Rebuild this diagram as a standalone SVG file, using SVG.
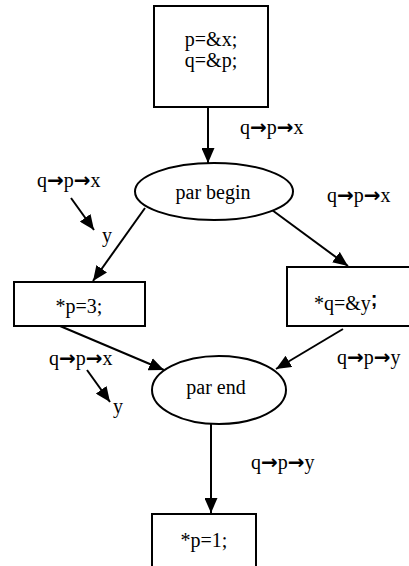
<svg xmlns="http://www.w3.org/2000/svg" width="409" height="566" viewBox="0 0 409 566">
<style>
.shape{fill:#fff;stroke:#000;stroke-width:2}
.t{font-family:"Liberation Serif","Times New Roman",serif;font-size:20px;fill:#000}
.c{text-anchor:middle}
.ar{font-family:"DejaVu Sans",sans-serif;font-weight:bold;font-size:20px}
.edge{stroke:#000;stroke-width:2;fill:none;marker-end:url(#ah)}
</style>
<defs>
<marker id="ah" viewBox="0 0 15 13" refX="15" refY="6.5" markerWidth="15" markerHeight="13" markerUnits="userSpaceOnUse" orient="auto">
<path d="M0,0 L15,6.5 L0,13 z" fill="#000"/>
</marker>
</defs>
<rect width="409" height="566" fill="#fff"/>
<g id="connectors">
<line class="edge" x1="208" y1="107" x2="208" y2="163"/>
<line class="edge" x1="145" y1="208" x2="93" y2="281"/>
<line class="edge" x1="272" y1="210" x2="348" y2="266"/>
<line class="edge" x1="60" y1="326" x2="164" y2="370"/>
<line class="edge" x1="343" y1="329" x2="276" y2="369"/>
<line class="edge" x1="211" y1="423" x2="211" y2="513"/>
<line class="edge" x1="71" y1="198" x2="94" y2="230"/>
<line class="edge" x1="87" y1="370" x2="110" y2="402"/>
</g>
<g id="n_init">
<rect class="shape" x="154" y="6" width="114" height="101"/>
<text class="t c" x="211" y="46" font-size="19.5">p=&amp;x;</text>
<text class="t c" x="211" y="67" font-size="19.5">q=&amp;p;</text>
</g>
<g id="n_parbegin">
<ellipse class="shape" cx="214" cy="191.5" rx="79" ry="28.5"/>
<text class="t c" x="213" y="199">par begin</text>
</g>
<g id="n_p3">
<rect class="shape" x="14" y="282" width="131" height="44"/>
<text class="t c" x="79" y="313">*p=3;</text>
</g>
<g id="n_qy">
<rect class="shape" x="287" y="267" width="130" height="59"/>
<text class="t" x="314" y="310">*q=&amp;y<tspan font-family="'Liberation Sans',Arial,sans-serif" font-weight="bold" dy="-4">;</tspan></text>
</g>
<g id="n_parend">
<ellipse class="shape" cx="219" cy="390" rx="67" ry="34"/>
<text class="t c" x="216" y="394">par end</text>
</g>
<g id="n_p1">
<rect class="shape" x="152" y="514" width="104" height="60"/>
<text class="t c" x="204" y="547">*p=1;</text>
</g>
<g id="labels">
<text class="t" x="240" y="134">q<tspan class="ar">→</tspan>p<tspan class="ar">→</tspan>x</text>
<text class="t" x="37" y="187">q<tspan class="ar">→</tspan>p<tspan class="ar">→</tspan>x</text>
<text class="t" x="102" y="242">y</text>
<text class="t" x="327" y="202">q<tspan class="ar">→</tspan>p<tspan class="ar">→</tspan>x</text>
<text class="t" x="49" y="365">q<tspan class="ar">→</tspan>p<tspan class="ar">→</tspan>x</text>
<text class="t" x="113" y="413">y</text>
<text class="t" x="337" y="364">q<tspan class="ar">→</tspan>p<tspan class="ar">→</tspan>y</text>
<text class="t" x="251" y="469">q<tspan class="ar">→</tspan>p<tspan class="ar">→</tspan>y</text>
</g>
</svg>
